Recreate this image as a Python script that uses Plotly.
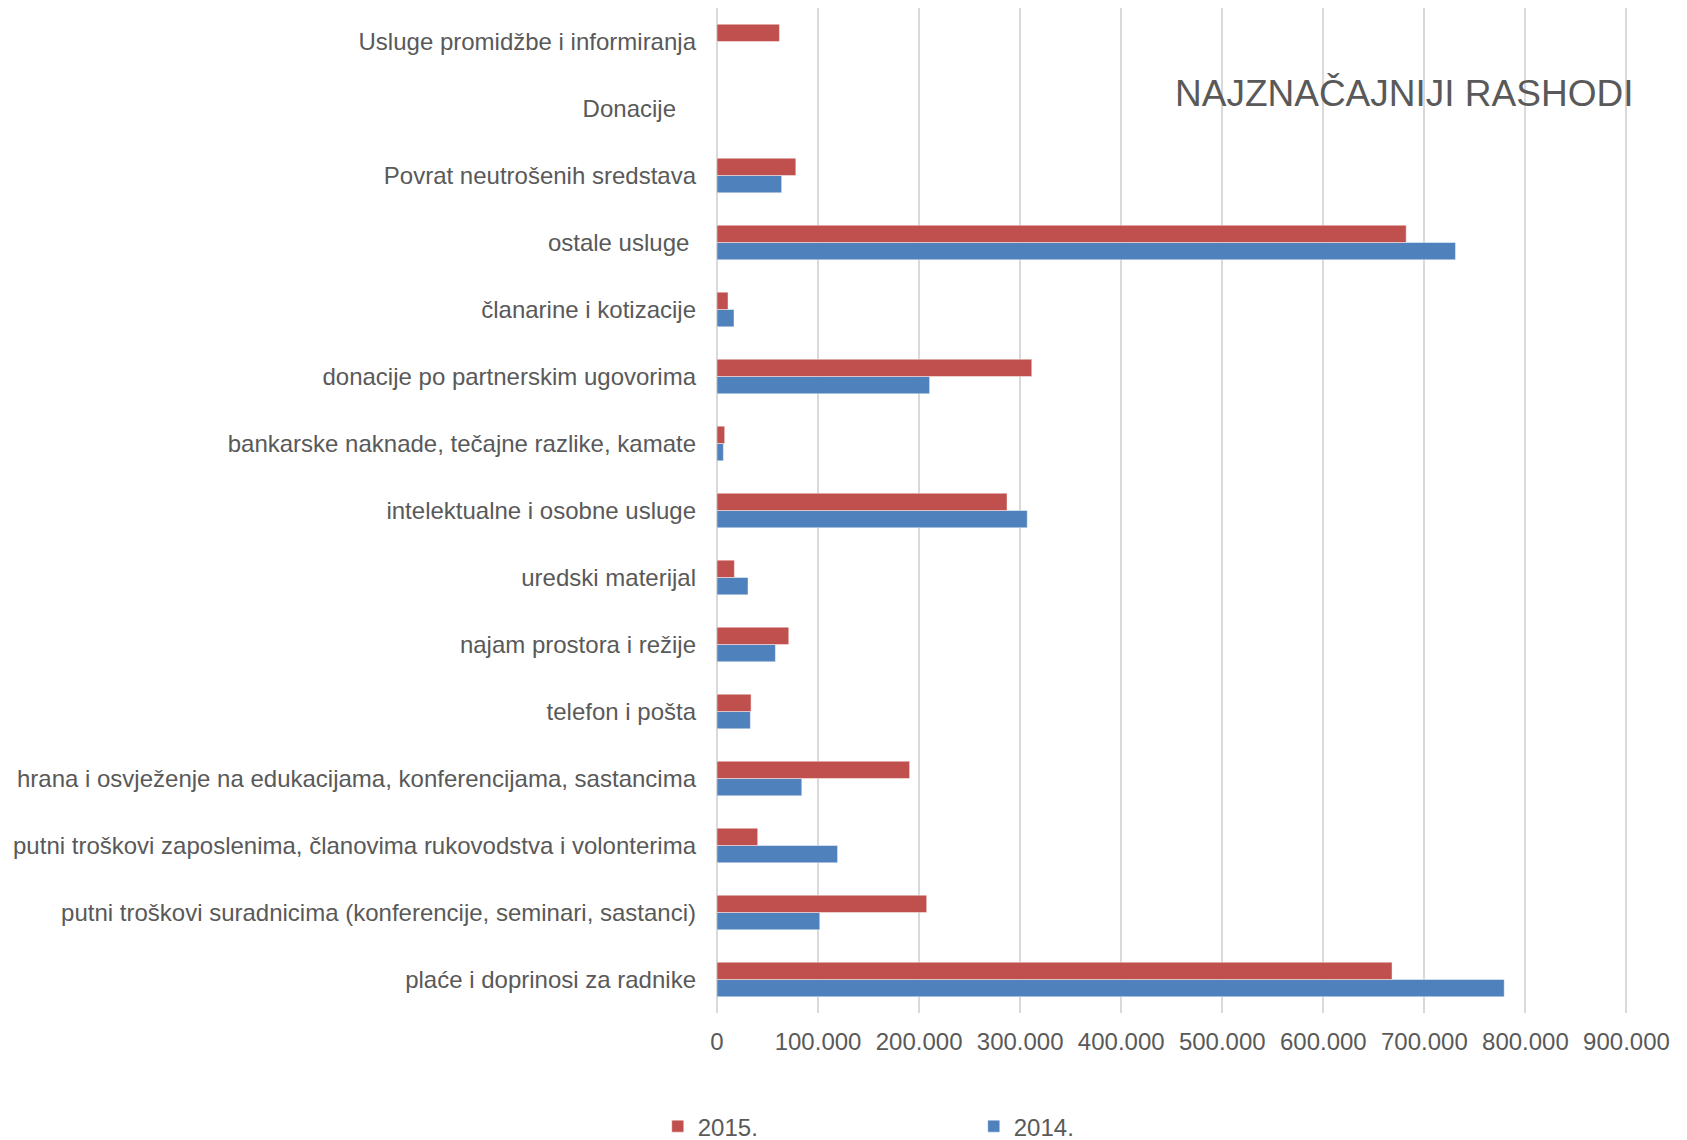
import plotly.graph_objects as go

categories = [
    "plaće i doprinosi za radnike",
    "putni troškovi suradnicima (konferencije, seminari, sastanci)",
    "putni troškovi zaposlenima, članovima rukovodstva i volonterima",
    "hrana i osvježenje na edukacijama, konferencijama, sastancima",
    "telefon i pošta",
    "najam prostora i režije",
    "uredski materijal",
    "intelektualne i osobne usluge",
    "bankarske naknade, tečajne razlike, kamate",
    "donacije po partnerskim ugovorima",
    "članarine i kotizacije",
    "ostale usluge\u00a0",
    "Povrat neutrošenih sredstava",
    "Donacije\u00a0\u00a0\u00a0",
    "Usluge promidžbe i informiranja",
]

values_2015 = [668000, 207500, 40300, 190600, 33700, 71000, 17200, 287000,
               7600, 311500, 10900, 682000, 78000, None, 61800]
values_2014 = [779000, 101700, 119300, 83900, 33000, 57800, 30700, 307000,
               6300, 210400, 16800, 730800, 64000, None, None]

tick_vals = [0, 100000, 200000, 300000, 400000, 500000, 600000, 700000, 800000, 900000]

FONT = "Liberation Sans, Arial, sans-serif"
TXT = "#595959"

fig = go.Figure()
fig.add_trace(go.Bar(
    y=categories, x=values_2014, orientation="h", name="2014.",
    marker=dict(color="#4F81BD", line=dict(color="rgba(255,255,255,0.45)", width=1)),
))
fig.add_trace(go.Bar(
    y=categories, x=values_2015, orientation="h", name="2015.",
    marker=dict(color="#C0504D", line=dict(color="rgba(255,255,255,0.45)", width=1)),
))

fig.update_layout(
    width=1679, height=1132,
    margin=dict(l=709, r=59, t=0, b=127, autoexpand=False),
    paper_bgcolor="white", plot_bgcolor="white",
    barmode="group", bargap=0.484, bargroupgap=0,
    separators=",.",
    font=dict(family=FONT, size=24, color=TXT),
    showlegend=True,
    legend=dict(
        orientation="h", traceorder="reversed",
        xref="container", yref="container",
        x=0.387, xanchor="left", y=0.0119, yanchor="middle",
        entrywidth=271, entrywidthmode="pixels",
        font=dict(family=FONT, size=24, color=TXT),
        bgcolor="rgba(0,0,0,0)",
    ),
    annotations=[dict(
        text="NAJZNAČAJNIJI RASHODI", xref="paper", yref="paper",
        x=1.0075, xanchor="right", y=0.9148, yanchor="middle",
        showarrow=False, font=dict(family=FONT, size=37, color=TXT),
    )],
)

fig.update_xaxes(
    range=[0, 901500], tickvals=tick_vals, tickformat=",d", tickangle=0,
    showgrid=True, gridcolor="#D9D9D9", gridwidth=2,
    zeroline=True, zerolinecolor="#D9D9D9", zerolinewidth=2,
    showline=False, ticks="", ticklabelstandoff=12,
    tickfont=dict(family=FONT, size=24, color=TXT),
)
fig.update_yaxes(
    type="category", categoryorder="array", categoryarray=categories,
    showgrid=False, zeroline=False, showline=False, ticks="",
    ticklabelstandoff=20,
    tickfont=dict(family=FONT, size=24, color=TXT),
)

fig.write_html("out.html")
